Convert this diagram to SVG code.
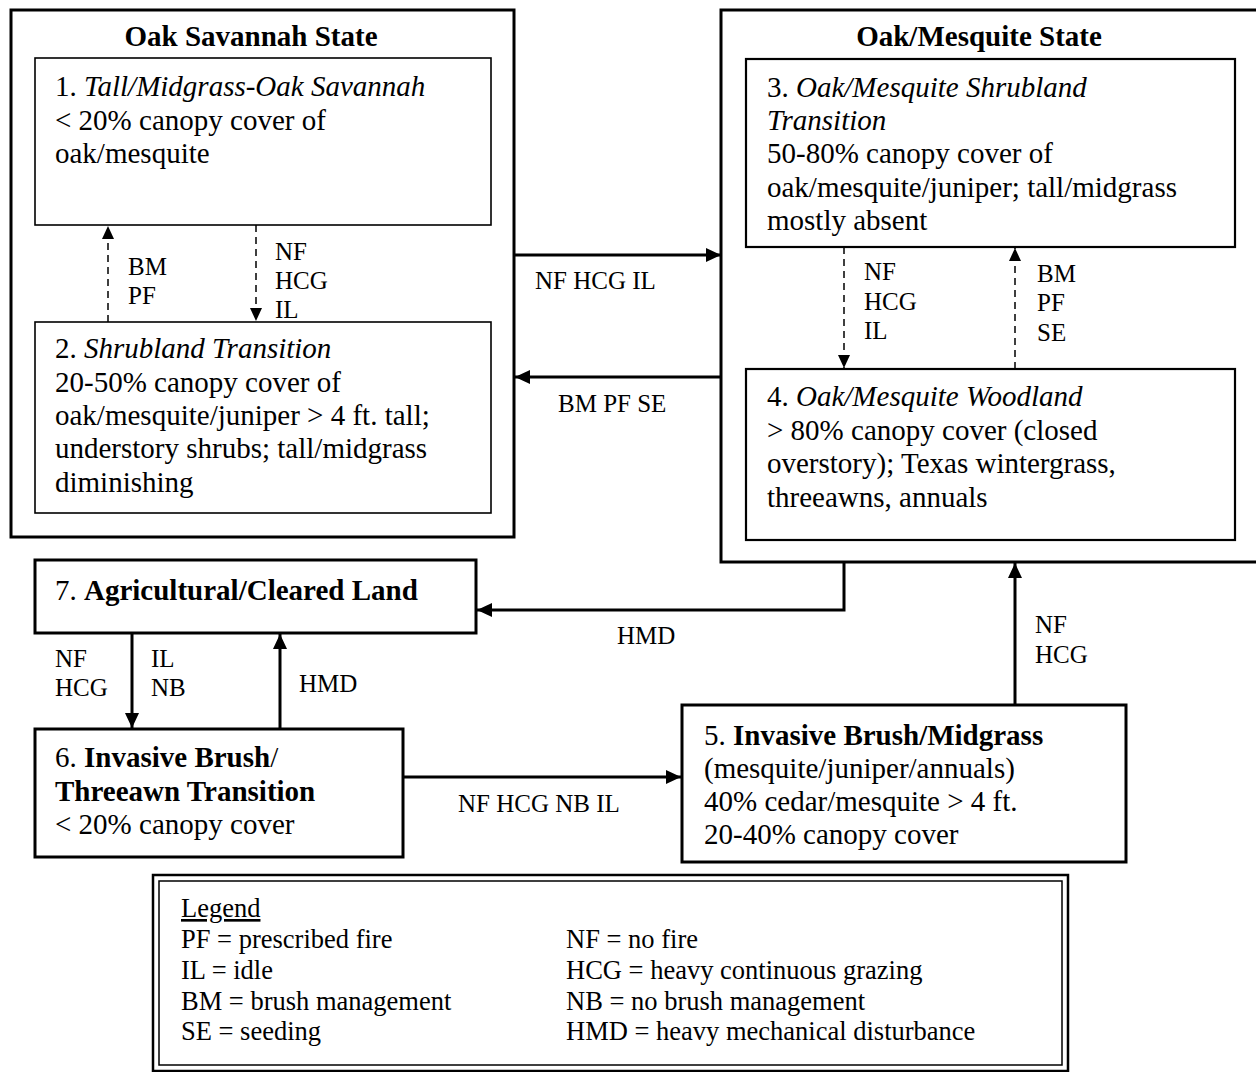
<svg xmlns="http://www.w3.org/2000/svg" width="1256" height="1072" viewBox="0 0 1256 1072">
<style>
text{font-family:"Liberation Serif","Times New Roman",serif;fill:#000}
.b{font-size:29px}
.t{font-size:29px;font-weight:bold}
.l{font-size:25px}
.g{font-size:26.5px}
.i{font-style:italic}
.bd{font-weight:bold}
.state{fill:#fff;stroke:#000;stroke-width:3}
.box{fill:#fff;stroke:#000;stroke-width:1.6}
.box2{fill:#fff;stroke:#000;stroke-width:2.2}
.box3{fill:#fff;stroke:#000;stroke-width:3}
.c{fill:none;stroke:#000;stroke-width:3}
.d{fill:none;stroke:#000;stroke-width:1.5;stroke-dasharray:7,5}
</style>
<defs>
<marker id="ah" markerUnits="userSpaceOnUse" markerWidth="16" markerHeight="14" refX="15" refY="7" orient="auto">
<path d="M0,0 L15,7 L0,14 z" fill="#000"/>
</marker>
<marker id="ahs" markerUnits="userSpaceOnUse" markerWidth="14" markerHeight="12" refX="13" refY="6" orient="auto">
<path d="M0,0 L13,6 L0,12 z" fill="#000"/>
</marker>
</defs>
<rect width="1256" height="1072" fill="#fff"/>

<g id="state-oak-savannah">
<rect class="state" x="11" y="10" width="503" height="527"/>
<text class="t" x="251" y="46" text-anchor="middle">Oak Savannah State</text>
</g>
<g id="state-oak-mesquite">
<rect class="state" x="721" y="10" width="540" height="552"/>
<text class="t" x="979" y="46" text-anchor="middle">Oak/Mesquite State</text>
</g>

<g id="node1">
<rect class="box" x="35" y="58" width="456" height="167"/>
<text class="b" x="55" y="96">1. <tspan class="i">Tall/Midgrass-Oak Savannah</tspan></text>
<text class="b" x="55" y="130">&lt; 20% canopy cover of</text>
<text class="b" x="55" y="163">oak/mesquite</text>
</g>
<g id="node2">
<rect class="box" x="35" y="322" width="456" height="191"/>
<text class="b" x="55" y="358">2. <tspan class="i">Shrubland Transition</tspan></text>
<text class="b" x="55" y="392">20-50% canopy cover of</text>
<text class="b" x="55" y="425">oak/mesquite/juniper &gt; 4 ft. tall;</text>
<text class="b" x="55" y="458">understory shrubs; tall/midgrass</text>
<text class="b" x="55" y="492">diminishing</text>
</g>
<g id="node3">
<rect class="box2" x="746" y="59" width="489" height="188"/>
<text class="b" x="767" y="97">3. <tspan class="i">Oak/Mesquite Shrubland</tspan></text>
<text class="b i" x="767" y="130">Transition</text>
<text class="b" x="767" y="163">50-80% canopy cover of</text>
<text class="b" x="767" y="197">oak/mesquite/juniper; tall/midgrass</text>
<text class="b" x="767" y="230">mostly absent</text>
</g>
<g id="node4">
<rect class="box2" x="746" y="369" width="489" height="171"/>
<text class="b" x="767" y="406">4. <tspan class="i">Oak/Mesquite Woodland</tspan></text>
<text class="b" x="767" y="440">&gt; 80% canopy cover (closed</text>
<text class="b" x="767" y="473">overstory); Texas wintergrass,</text>
<text class="b" x="767" y="507">threeawns, annuals</text>
</g>
<g id="node7">
<rect class="box3" x="35" y="560" width="441" height="73"/>
<text class="b" x="55" y="600">7. <tspan class="bd">Agricultural/Cleared Land</tspan></text>
</g>
<g id="node6">
<rect class="box3" x="35" y="729" width="368" height="128"/>
<text class="b" x="55" y="767">6. <tspan class="bd">Invasive Brush</tspan>/</text>
<text class="t" x="55" y="801">Threeawn Transition</text>
<text class="b" x="55" y="834">&lt; 20% canopy cover</text>
</g>
<g id="node5">
<rect class="box3" x="682" y="705" width="444" height="157"/>
<text class="b" x="704" y="745">5. <tspan class="bd">Invasive Brush/Midgrass</tspan></text>
<text class="b" x="704" y="778">(mesquite/juniper/annuals)</text>
<text class="b" x="704" y="811">40% cedar/mesquite &gt; 4 ft.</text>
<text class="b" x="704" y="844">20-40% canopy cover</text>
</g>

<g id="connectors">
<line class="d" x1="108" y1="322" x2="108" y2="226" marker-end="url(#ahs)"/>
<line class="d" x1="256" y1="225" x2="256" y2="321" marker-end="url(#ahs)"/>
<line class="c" x1="514" y1="255" x2="721" y2="255" marker-end="url(#ah)"/>
<line class="c" x1="721" y1="377" x2="515" y2="377" marker-end="url(#ah)"/>
<line class="d" x1="844" y1="247" x2="844" y2="368" marker-end="url(#ahs)"/>
<line class="d" x1="1015" y1="369" x2="1015" y2="248" marker-end="url(#ahs)"/>
<polyline class="c" points="844,562 844,610 477,610" marker-end="url(#ah)"/>
<line class="c" x1="1015" y1="705" x2="1015" y2="563" marker-end="url(#ah)"/>
<line class="c" x1="132" y1="633" x2="132" y2="728" marker-end="url(#ah)"/>
<line class="c" x1="280" y1="729" x2="280" y2="634" marker-end="url(#ah)"/>
<line class="c" x1="403" y1="777" x2="681" y2="777" marker-end="url(#ah)"/>

<text class="l" x="128" y="275">BM</text>
<text class="l" x="128" y="304">PF</text>
<text class="l" x="275" y="260">NF</text>
<text class="l" x="275" y="289">HCG</text>
<text class="l" x="275" y="318">IL</text>
<text class="l" x="535" y="289">NF HCG IL</text>
<text class="l" x="558" y="412">BM PF SE</text>
<text class="l" x="864" y="280">NF</text>
<text class="l" x="864" y="310">HCG</text>
<text class="l" x="864" y="339">IL</text>
<text class="l" x="1037" y="282">BM</text>
<text class="l" x="1037" y="311">PF</text>
<text class="l" x="1037" y="341">SE</text>
<text class="l" x="617" y="644">HMD</text>
<text class="l" x="55" y="667">NF</text>
<text class="l" x="55" y="696">HCG</text>
<text class="l" x="151" y="667">IL</text>
<text class="l" x="151" y="696">NB</text>
<text class="l" x="299" y="692">HMD</text>
<text class="l" x="458" y="812">NF HCG NB IL</text>
<text class="l" x="1035" y="633">NF</text>
<text class="l" x="1035" y="663">HCG</text>
</g>

<g id="legend">
<rect x="153" y="875" width="915" height="196" fill="#fff" stroke="#000" stroke-width="2.5"/>
<rect x="159" y="881" width="903" height="184" fill="none" stroke="#000" stroke-width="1.5"/>
<text class="g" x="181" y="917" text-decoration="underline">Legend</text>
<text class="g" x="181" y="948">PF = prescribed fire</text>
<text class="g" x="181" y="979">IL = idle</text>
<text class="g" x="181" y="1010">BM = brush management</text>
<text class="g" x="181" y="1040">SE = seeding</text>
<text class="g" x="566" y="948">NF = no fire</text>
<text class="g" x="566" y="979">HCG = heavy continuous grazing</text>
<text class="g" x="566" y="1010">NB = no brush management</text>
<text class="g" x="566" y="1040">HMD = heavy mechanical disturbance</text>
</g>
</svg>
